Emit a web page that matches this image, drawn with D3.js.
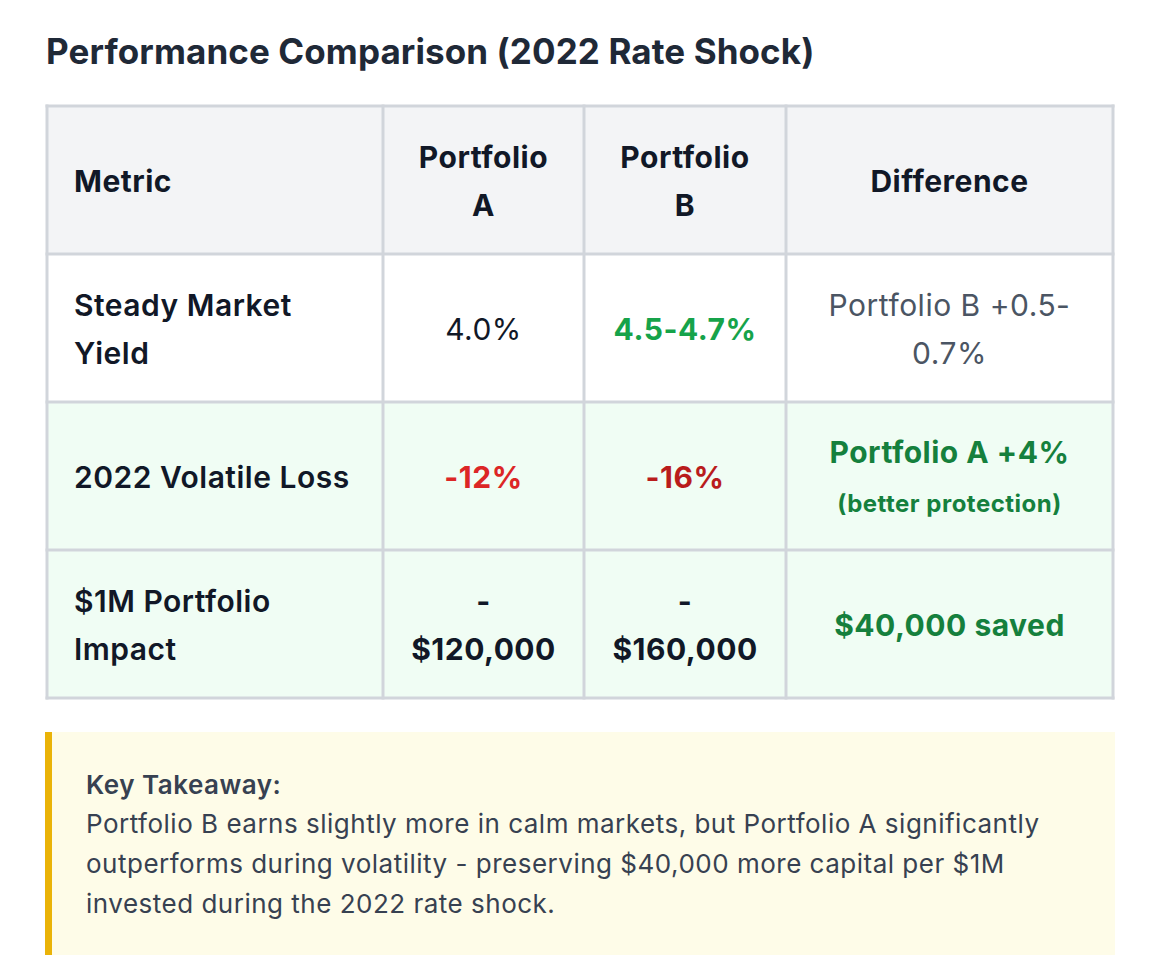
<!DOCTYPE html>
<html>
<head>
<meta charset="utf-8">
<script src="https://cdn.jsdelivr.net/npm/d3@7"></script>
<style>
  body { margin: 0; background: #fff; }
  svg { font-family: Inter, "Noto Sans", "DejaVu Sans", sans-serif; display: block; }
</style>
</head>
<body>
<div id="chart"></div>
<script>
// ---- data ----
const title = "Performance Comparison (2022 Rate Shock)";
const headers = ["Metric", "Portfolio A", "Portfolio B", "Difference"];
const metrics = ["Steady Market Yield", "2022 Volatile Loss", "$1M Portfolio Impact"];
const portfolioA = ["4.0%", "-12%", "-$120,000"];
const portfolioB = ["4.5-4.7%", "-16%", "-$160,000"];
const difference = ["Portfolio B +0.5-0.7%", "Portfolio A +4%", "$40,000 saved"];
const differenceNote = ["", "(better protection)", ""];
const takeawayTitle = "Key Takeaway:";
const takeawayText = "Portfolio B earns slightly more in calm markets, but Portfolio A significantly outperforms during volatility - preserving $40,000 more capital per $1M invested during the 2022 rate shock.";

// ---- layout ----
const width = 1174, height = 963;
const colWidths = [336, 201, 202, 327];
const tableLeft = 47, tableTop = 106, rowH = 148;
const pad = 25;
const spacing = 0.5;
const border = "#d1d5db";

const svg = d3.select("#chart").append("svg")
    .attr("width", width)
    .attr("height", height);

const colEdges = [tableLeft, ...d3.cumsum(colWidths).map(d => tableLeft + d)];
const x = d3.scaleOrdinal().domain(d3.range(4)).range(colEdges.slice(0, 4));
const y = d3.scaleBand().domain(d3.range(4)).range([tableTop, tableTop + rowH * 4]);

// break text into lines that fit a width (breaks after spaces and hyphens)
function wrap(text, size, weight, maxW) {
    const probe = svg.append("text")
        .attr("font-size", size)
        .attr("font-weight", weight)
        .attr("letter-spacing", spacing);
    const tokens = text.match(/[^\s-]*-|[^\s-]+\s*|\s+/g);
    const lines = [];
    let cur = "";
    tokens.forEach(t => {
        const test = cur + t;
        probe.text(test.trim());
        if (cur && probe.node().getComputedTextLength() > maxW) {
            lines.push(cur.trim());
            cur = t;
        } else {
            cur = test;
        }
    });
    if (cur.trim()) lines.push(cur.trim());
    probe.remove();
    return lines;
}

// draw stacked lines centered vertically at cy
function drawLines(g, lines, tx, cy, anchor) {
    const total = d3.sum(lines, d => d.lh);
    let top = cy - total / 2;
    lines.forEach(l => {
        g.append("text")
            .attr("x", tx)
            .attr("y", top + l.lh / 2 + l.size * 0.37)
            .attr("text-anchor", anchor)
            .attr("font-size", l.size)
            .attr("font-weight", l.weight)
            .attr("letter-spacing", spacing)
            .attr("fill", l.color)
            .text(l.text);
        top += l.lh;
    });
}

// title
svg.append("text")
    .attr("x", 46)
    .attr("y", 64)
    .attr("font-size", 35)
    .attr("font-weight", 700)
    .attr("letter-spacing", 0.1)
    .attr("fill", "#1f2937")
    .text(title);

const rowFill = ["#f3f4f6", "#ffffff", "#f0fdf4", "#f0fdf4"];

// cell backgrounds
const cells = [];
d3.range(4).forEach(r => d3.range(4).forEach(c => cells.push({ r, c })));
svg.append("g").selectAll("rect")
    .data(cells)
    .join("rect")
    .attr("x", d => x(d.c))
    .attr("y", d => y(d.r))
    .attr("width", d => colWidths[d.c])
    .attr("height", y.bandwidth())
    .attr("fill", d => rowFill[d.r]);

// cell text styles
const tableRows = [headers].concat(metrics.map((m, i) => [m, portfolioA[i], portfolioB[i], difference[i]]));

function cellStyle(r, c) {
    if (r === 0) return { size: 30, weight: 700, color: "#111827" };
    if (c === 0) return { size: 30, weight: 600, color: "#111827" };
    const i = r - 1;
    if (c === 1) {
        if (i === 0) return { size: 30, weight: 400, color: "#111827" };
        if (i === 1) return { size: 30, weight: 700, color: "#dc2626" };
        return { size: 30, weight: 700, color: "#111827" };
    }
    if (c === 2) {
        if (i === 0) return { size: 30, weight: 700, color: "#16a34a" };
        if (i === 1) return { size: 30, weight: 700, color: "#b91c1c" };
        return { size: 30, weight: 700, color: "#111827" };
    }
    if (i === 0) return { size: 30, weight: 400, color: "#4b5563" };
    return { size: 30, weight: 700, color: "#15803d" };
}

const textG = svg.append("g");
tableRows.forEach((row, r) => {
    row.forEach((val, c) => {
        const st = cellStyle(r, c);
        const inner = colWidths[c] - pad * 2;
        let lines = wrap(val, st.size, st.weight, inner)
            .map(t => ({ text: t, size: st.size, weight: st.weight, color: st.color, lh: 48 }));
        let shift = 1;
        if (r > 0 && c === 3 && differenceNote[r - 1]) {
            lines.push({ text: differenceNote[r - 1], size: 24, weight: 700, color: "#15803d", lh: 54 });
            shift = 3;
        }
        const left = c === 0;
        const tx = left ? x(c) + pad + 2 : x(c) + colWidths[c] / 2;
        drawLines(textG, lines, tx, y(r) + y.bandwidth() / 2 + shift, left ? "start" : "middle");
    });
});

// grid lines
const grid = svg.append("g")
    .attr("stroke", border)
    .attr("stroke-width", 3);
grid.selectAll("line.v")
    .data(colEdges)
    .join("line")
    .attr("class", "v")
    .attr("x1", d => d).attr("x2", d => d)
    .attr("y1", tableTop - 1.5).attr("y2", tableTop + rowH * 4 + 1.5);
grid.selectAll("line.h")
    .data(d3.range(5))
    .join("line")
    .attr("class", "h")
    .attr("x1", tableLeft - 1.5).attr("x2", colEdges[4] + 1.5)
    .attr("y1", d => tableTop + d * rowH).attr("y2", d => tableTop + d * rowH);

// takeaway callout
const box = { x: 45, y: 732, w: 1070, h: 223 };
const callout = svg.append("g");
callout.append("rect")
    .attr("x", box.x).attr("y", box.y)
    .attr("width", box.w).attr("height", box.h)
    .attr("fill", "#fefce8");
callout.append("rect")
    .attr("x", box.x).attr("y", box.y)
    .attr("width", 7).attr("height", box.h)
    .attr("fill", "#eab308");
callout.append("text")
    .attr("x", 86).attr("y", 794)
    .attr("font-size", 26)
    .attr("font-weight", 600)
    .attr("letter-spacing", spacing)
    .attr("fill", "#374151")
    .text(takeawayTitle);
wrap(takeawayText, 26, 400, 995).forEach((t, i) => {
    callout.append("text")
        .attr("x", 86).attr("y", 833 + i * 40)
        .attr("font-size", 26)
        .attr("letter-spacing", spacing)
        .attr("fill", "#374151")
        .text(t);
});
</script>
</body>
</html>
